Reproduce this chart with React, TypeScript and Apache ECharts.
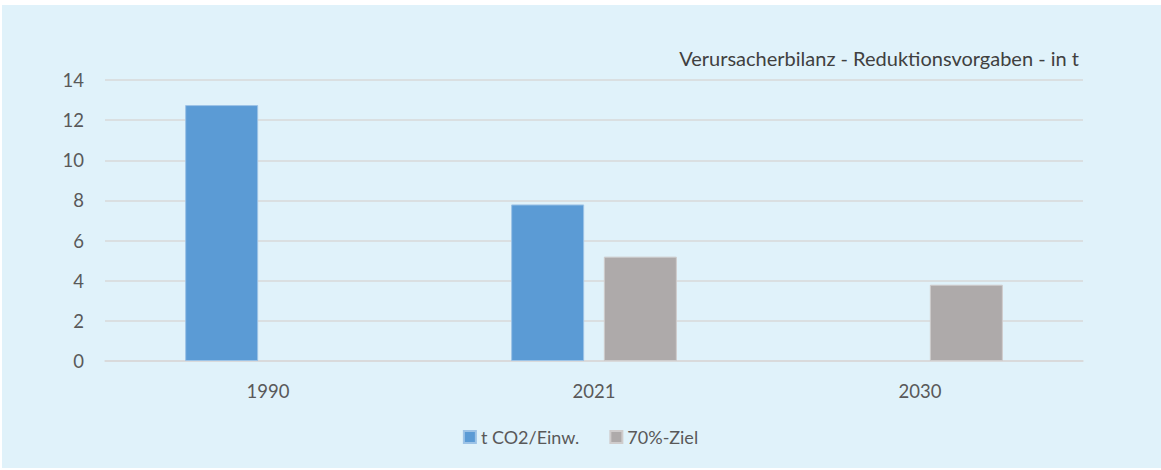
import React, { useEffect, useRef } from "react";
import * as echarts from "echarts";

const categories = ["1990", "2021", "2030"];
const co2PerCapita = [12.75, 7.8, null];
const target70 = [null, 5.2, 3.8];
const yTicks = { min: 0, max: 14, interval: 2 };
const titleText = "Verursacherbilanz - Reduktionsvorgaben - in t";
const seriesNames = ["t CO2/Einw.", "70%-Ziel"];

const FONT = "Lato, 'Open Sans', sans-serif";

export default function App() {
  const ref = useRef<HTMLDivElement>(null);
  useEffect(() => {
    if (!ref.current) return;
    const chart = echarts.init(ref.current, undefined, { renderer: "svg" });
    chart.setOption({
      animation: false,
      backgroundColor: "transparent",
      textStyle: { fontFamily: FONT },
      title: {
        text: titleText,
        right: 82,
        top: 48,
        padding: 0,
        textStyle: { fontSize: 20, fontWeight: "normal", color: "#404040", fontFamily: FONT },
      },
      grid: { left: 105, right: 78, top: 80, bottom: 109, containLabel: false },
      legend: {
        bottom: 19,
        left: "center",
        itemWidth: 12,
        itemHeight: 12,
        itemGap: 30,
        icon: "rect",
        textStyle: { fontSize: 18, color: "#595959", fontFamily: FONT },
        data: seriesNames,
      },
      xAxis: {
        type: "category",
        data: categories,
        axisLine: { show: true, lineStyle: { color: "#d9d9d9", width: 1.5 } },
        axisTick: { show: false },
        axisLabel: { fontSize: 18.5, color: "#595959", margin: 20, fontFamily: FONT },
      },
      yAxis: {
        type: "value",
        min: yTicks.min,
        max: yTicks.max,
        interval: yTicks.interval,
        axisLine: { show: false },
        axisTick: { show: false },
        axisLabel: { fontSize: 18.5, color: "#595959", margin: 21, fontFamily: FONT },
        splitLine: { lineStyle: { color: "#d9d9d9", width: 1.5 } },
      },
      series: [
        {
          name: seriesNames[0],
          type: "bar",
          data: co2PerCapita,
          barWidth: 73,
          barGap: "27%",
          itemStyle: { color: "#5b9bd5", borderColor: "#9dc3e6", borderWidth: 1 },
        },
        {
          name: seriesNames[1],
          type: "bar",
          data: target70,
          barWidth: 73,
          barGap: "27%",
          itemStyle: { color: "#aeaaaa", borderColor: "#cfcccc", borderWidth: 1 },
        },
      ],
    });
    return () => chart.dispose();
  }, []);
  return (
    <div style={{ position: "absolute", left: 0, top: 0, width: 1161, height: 470, background: "#ffffff" }}>
      <div style={{ position: "absolute", left: 2, top: 5, width: 1159, height: 463, background: "#e0f2fa" }} />
      <div ref={ref} style={{ position: "absolute", left: 0, top: 0, width: 1161, height: 470 }} />
    </div>
  );
}
